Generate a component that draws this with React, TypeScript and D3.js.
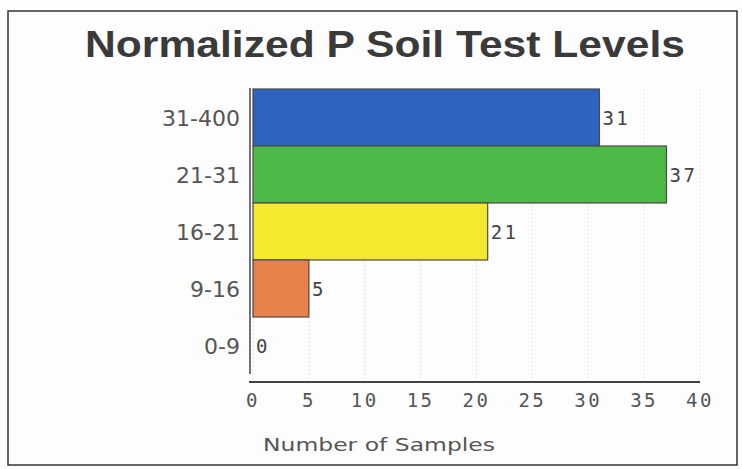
import React from "react";
import * as d3 from "d3";

const categories = ["31-400", "21-31", "16-21", "9-16", "0-9"];
const values = [31, 37, 21, 5, 0];
const colors = ["#2f63c2", "#4dba48", "#f4e92e", "#e8814a", "#999999"];
const ticks = [0, 5, 10, 15, 20, 25, 30, 35, 40];
const title = "Normalized P Soil Test Levels";
const xTitle = "Number of Samples";

export default function App() {
  const W = 742, H = 469;
  const x = d3.scaleLinear().domain([0, 40]).range([253, 700]);
  const y = d3.scaleBand().domain(categories).range([89, 374]).padding(0);
  const axisY = 382;
  return (
    <svg width={W} height={H} style={{ position: "absolute", left: 0, top: 0, background: "#fdfdfd" }}>
      <rect x={8} y={11} width={729} height={454} fill="none" stroke="#333" strokeWidth={1.5} />
      <text x={385} y={57} textAnchor="middle" fontFamily="Liberation Sans, Arial, sans-serif" fontWeight="bold" fontSize={37} fill="#3a3a3a" textLength={600} lengthAdjust="spacingAndGlyphs">{title}</text>
      {ticks.map((t) => (
        <line key={"g" + t} x1={x(t)} x2={x(t)} y1={89} y2={axisY} stroke="#e2e2e2" strokeWidth={1} strokeDasharray="2,2" />
      ))}
      {categories.map((c, i) => (
        <g key={c}>
          {values[i] > 0 && (
            <rect x={x(0)} y={y(c)!} width={x(values[i]) - x(0)} height={y.bandwidth()} fill={colors[i]} stroke="#4a4a4a" strokeWidth={1.2} />
          )}
          <text x={x(values[i]) + 3} y={y(c)! + y.bandwidth() / 2 + 7} fontFamily="DejaVu Sans Mono, monospace" fontSize={19} letterSpacing={2.5} fill="#444">{values[i]}</text>
          <text x={240} y={y(c)! + y.bandwidth() / 2 + 8} textAnchor="end" fontFamily="DejaVu Sans, sans-serif" fontSize={22} fill="#555">{c}</text>
        </g>
      ))}
      <line x1={250} x2={250} y1={88} y2={374} stroke="#444" strokeWidth={1.5} />
      <line x1={249} x2={x(40)} y1={axisY} y2={axisY} stroke="#444" strokeWidth={2} />
      {ticks.map((t) => (
        <text key={"t" + t} x={x(t)} y={407} textAnchor="middle" fontFamily="DejaVu Sans Mono, monospace" fontSize={19} letterSpacing={2.5} fill="#555">{t}</text>
      ))}
      <text x={379} y={451} textAnchor="middle" fontFamily="DejaVu Sans, sans-serif" fontSize={17} fill="#555" textLength={232} lengthAdjust="spacingAndGlyphs">{xTitle}</text>
    </svg>
  );
}
